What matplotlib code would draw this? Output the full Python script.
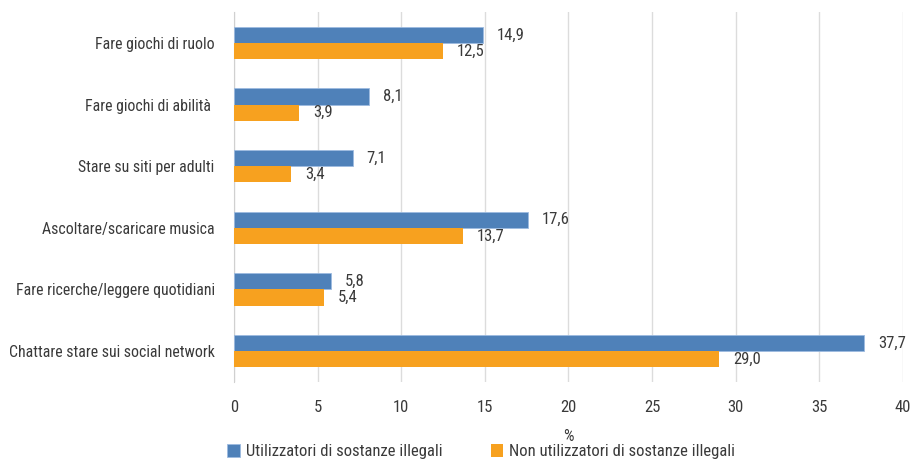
import matplotlib.pyplot as plt
import numpy as np

categorie = ['Fare giochi di ruolo', 'Fare giochi di abilità ', 'Stare su siti per adulti',
             'Ascoltare/scaricare musica', 'Fare ricerche/leggere quotidiani',
             'Chattare stare sui social network']
utilizzatori = [14.9, 8.1, 7.1, 17.6, 5.8, 37.7]
non_utilizzatori = [12.5, 3.9, 3.4, 13.7, 5.4, 29.0]
serie = ['Utilizzatori di sostanze illegali', 'Non utilizzatori di sostanze illegali']

blu = '#4f81b9'
arancio = '#f7a11f'
grigio = '#3a3a3a'

plt.rcParams['font.family'] = ['Roboto Condensed', 'DejaVu Sans']

fig = plt.figure(figsize=(9.13, 4.63), dpi=100)
ax = fig.add_axes([0.2563, 0.175, 0.7327, 0.799])

y = np.arange(len(categorie))
h = 0.26
b1 = ax.barh(y - h / 2, utilizzatori, height=h, color=blu, edgecolor='#9dbbe0', linewidth=0.6, label=serie[0], zorder=3)
b2 = ax.barh(y + h / 2, non_utilizzatori, height=h, color=arancio, label=serie[1], zorder=3)

# etichette dei valori con la virgola decimale
for barre, valori in [(b1, utilizzatori), (b2, non_utilizzatori)]:
    for rect, v in zip(barre, valori):
        ax.annotate(f'{v:.1f}'.replace('.', ','), (v, rect.get_y() + rect.get_height() / 2),
                    xytext=(10, 0), textcoords='offset points',
                    va='center', ha='left', fontsize=12, color=grigio)

ax.set_ylim(len(categorie) - 0.5, -0.5)
ax.set_xlim(0, 40)
ax.set_xticks(range(0, 41, 5))
ax.set_yticks(y)
ax.set_yticklabels(categorie, fontsize=11.4, color=grigio)
ax.tick_params(axis='y', length=0, pad=14)
ax.tick_params(axis='x', length=0, pad=13, labelsize=12, labelcolor=grigio)
ax.grid(axis='x', color='#dcdcdc', linewidth=1, zorder=0)
for s in ['top', 'right', 'bottom']:
    ax.spines[s].set_visible(False)
ax.spines['left'].set_color('#d0d0d0')
ax.set_xlabel('%', fontsize=12, color=grigio, labelpad=10)

fig.legend(loc='center', bbox_to_anchor=(0.527, 0.024), ncol=2, frameon=False,
           fontsize=12, handlelength=0.75, handleheight=0.75, handletextpad=0.35, columnspacing=2.9,
           labelcolor=grigio)

plt.savefig('out.png')
